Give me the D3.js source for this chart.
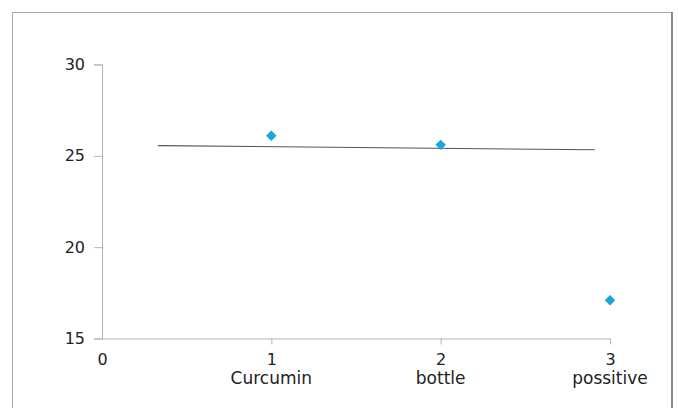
<!DOCTYPE html>
<html>
<head>
<meta charset="utf-8">
<script src="https://cdn.jsdelivr.net/npm/d3@7"></script>
<style>
  body { margin: 0; background: #fff; }
  svg { display: block; }
  text { font-family: "DejaVu Sans", Verdana, sans-serif; fill: #222; }
</style>
</head>
<body>
<div id="chart"></div>
<script>
// values
var xs = [1, 2, 3];
var ys = [26.1, 25.6, 17.1];
var categories = ["Curcumin", "bottle", "possitive"];
var xTicks = [0, 1, 2, 3];
var yTicks = [15, 20, 25, 30];
var trendX = [0.33, 2.91];
var trendY = [25.56, 25.33];

var width = 678, height = 408;
var svg = d3.select("#chart").append("svg")
  .attr("width", width).attr("height", height);

// frame
svg.append("rect")
  .attr("x", 12.5).attr("y", 12.5)
  .attr("width", 659).attr("height", 420)
  .attr("fill", "none").attr("stroke", "#a8a8a8");
svg.append("line")
  .attr("x1", 672).attr("x2", 672).attr("y1", 12).attr("y2", height)
  .attr("stroke", "#8a8a8a").attr("stroke-width", 2);

var x = d3.scaleLinear().domain([0, 3]).range([102, 610]);
var y = d3.scaleLinear().domain([15, 30]).range([338.5, 64.5]);

var axisColor = "#b4b4b4";

// y axis
var gy = svg.append("g").attr("transform", "translate(" + x(0) + ",0)")
  .call(d3.axisLeft(y).tickValues(yTicks).tickSize(8).tickPadding(9).tickFormat(d3.format("d")));
gy.select(".domain").attr("stroke", axisColor);
gy.selectAll(".tick line").attr("stroke", axisColor);
gy.selectAll("text").style("font-size", "16px").style("font-family", "DejaVu Sans").attr("fill", "#1a1a1a");

// x axis
var gx = svg.append("g").attr("transform", "translate(0," + y(15) + ")")
  .call(d3.axisBottom(x).tickValues(xTicks).tickSize(6).tickSizeOuter(0).tickPadding(9).tickFormat(d3.format("d")));
gx.select(".domain").attr("stroke", axisColor);
gx.selectAll(".tick line").attr("stroke", axisColor);
gx.selectAll(".tick").filter(function(d) { return d === 0; }).select("line").remove();
gx.selectAll(".tick text").style("font-size", "16px").style("font-family", "DejaVu Sans").attr("fill", "#1a1a1a");

// category labels under the numbers
svg.append("g").selectAll("text").data(categories).enter().append("text")
  .attr("x", function(d, i) { return x(xs[i]); })
  .attr("y", 384)
  .attr("text-anchor", "middle")
  .style("font-size", "17px")
  .attr("fill", "#1a1a1a")
  .text(function(d) { return d; });

// trend line
svg.append("line")
  .attr("x1", x(trendX[0])).attr("y1", y(trendY[0]))
  .attr("x2", x(trendX[1])).attr("y2", y(trendY[1]))
  .attr("stroke", "#555").attr("stroke-width", 1.1);

// points
svg.append("g").selectAll("path").data(xs).enter().append("path")
  .attr("transform", function(d, i) { return "translate(" + x(d) + "," + y(ys[i]) + ")"; })
  .attr("d", d3.symbol().type(d3.symbolDiamond2).size(70))
  .attr("fill", "#1ba6de");
</script>
</body>
</html>
